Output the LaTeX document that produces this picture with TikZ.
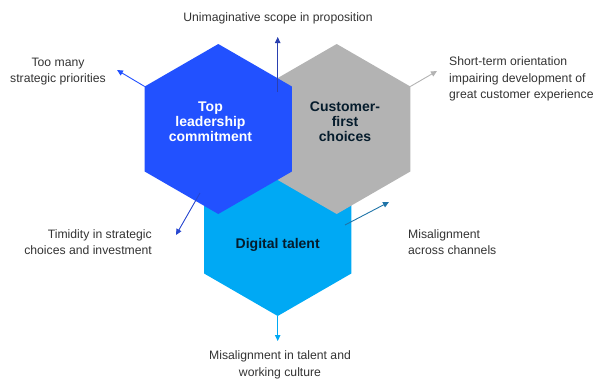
\documentclass[tikz,border=0pt]{standalone}
\usepackage{fontspec}
\setmainfont{Liberation Sans}
\usetikzlibrary{shapes.geometric,arrows.meta}
\definecolor{hexblue}{HTML}{2251FF}
\definecolor{hexgray}{HTML}{B3B3B3}
\definecolor{hexcyan}{HTML}{00A9F4}
\definecolor{navyline}{HTML}{2A40B0}
\definecolor{tealline}{HTML}{1F74A8}
\definecolor{inktext}{HTML}{051C2C}
\definecolor{labeltext}{HTML}{333333}

\begin{document}
\begin{tikzpicture}[x=1pt,y=-1pt]
\tikzset{hexa/.style={regular polygon,regular polygon sides=6,shape border rotate=30,minimum size=170pt,inner sep=0pt,outer sep=0pt,draw=none},
  hextext/.style={align=center,font=\fontsize{14}{15}\selectfont\bfseries,inner sep=0pt},
  risk/.style={font=\fontsize{12.2}{16.5}\selectfont,text=labeltext,inner sep=0pt},
  riskarrow/.style={line width=0.9pt,-{Triangle[width=5.5pt,length=6pt]}}};
\useasboundingbox (0,0) rectangle (600,389);
    % hexagons, back to front
    \node[hexa,fill=hexcyan] (talent) at (277.7,231) {};
    \node[hexa,fill=hexgray] (customer) at (336.7,129) {};
    \node[hexa,fill=hexblue] (leader) at (218.3,129) {};
    \node[hextext,text=white] (leadertext) at (210.5,122) {Top\\leadership\\commitment};
    \node[hextext,text=inktext] (customertext) at (345,122) {Customer-\\first\\choices};
    \node[hextext,text=inktext] (talenttext) at (277.7,245) {Digital talent};
    % risk labels
    \node[risk] (scope) at (278,18) {Unimaginative scope in proposition};
    \node[risk,align=center] (priorities) at (58,71.5) {Too many\\strategic priorities};
    \node[risk,align=left,anchor=west] (shortterm) at (449,79) {Short-term orientation\\impairing development of\\great customer experience};
    \node[risk,align=right,anchor=east] (timidity) at (152,242) {Timidity in strategic\\choices and investment};
    \node[risk,align=left,anchor=west] (channels) at (408,242) {Misalignment\\across channels};
    \node[risk,align=center] (culture) at (280,365) {Misalignment in talent and\\working culture};
    % arrow ends
    \coordinate (scopestart) at (277.7,92);
    \coordinate (scopeend) at (277.7,37);
    \coordinate (prioend) at (117,70);
    \coordinate (shortend) at (437,71);
    \coordinate (timidstart) at (200,193);
    \coordinate (timidend) at (176,235);
    \coordinate (chanstart) at (345,225);
    \coordinate (chanend) at (389,202);
    \coordinate (cultureend) at (277.7,341);
    \draw[riskarrow,navyline] (scopestart)--(scopeend);
    \draw[riskarrow,hexblue] (leader.150)--(prioend);
    \draw[riskarrow,hexgray] (customer.30)--(shortend);
    \draw[riskarrow,navyline!60!hexblue] (timidstart)--(timidend);
    \draw[riskarrow,tealline] (chanstart)--(chanend);
    \draw[riskarrow,hexcyan] (talent.-90)--(cultureend);
\end{tikzpicture}
\end{document}
